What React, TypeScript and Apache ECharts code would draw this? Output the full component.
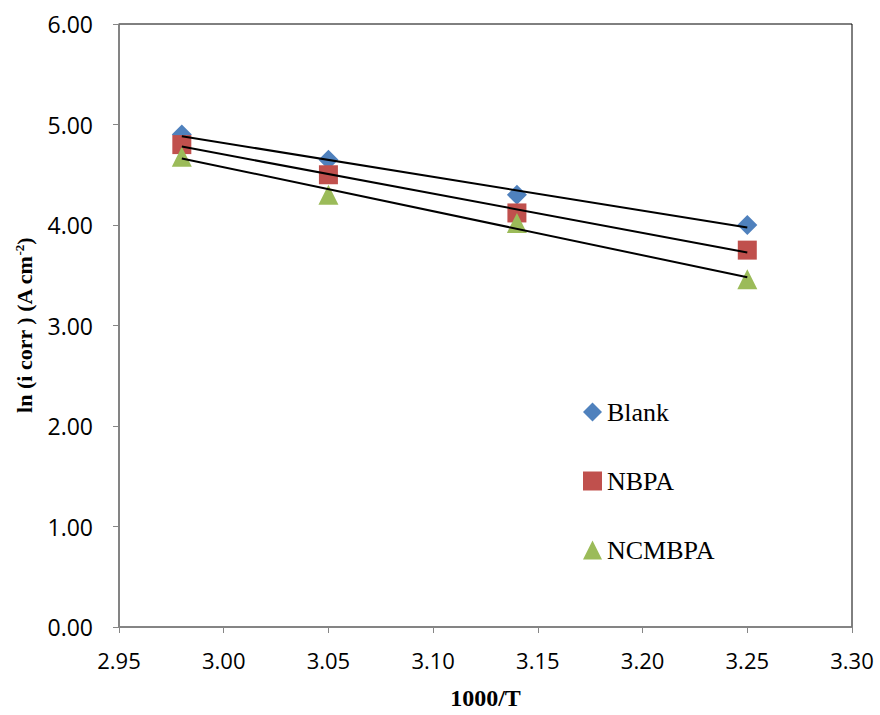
import React, { useEffect, useRef } from "react";
import * as echarts from "echarts";

const xValues = [2.98, 3.05, 3.14, 3.25];
const blank = [4.9, 4.65, 4.3, 4.0];
const nbpa = [4.8, 4.5, 4.12, 3.75];
const ncmbpa = [4.68, 4.3, 4.02, 3.46];
const yTicks = [0, 1, 2, 3, 4, 5, 6];
const xTicks = [2.95, 3.0, 3.05, 3.1, 3.15, 3.2, 3.25, 3.3];

function fit(xs: number[], ys: number[]): number[][] {
  const n = xs.length;
  const mx = xs.reduce((a, b) => a + b, 0) / n;
  const my = ys.reduce((a, b) => a + b, 0) / n;
  let sxy = 0, sxx = 0;
  for (let i = 0; i < n; i++) {
    sxy += (xs[i] - mx) * (ys[i] - my);
    sxx += (xs[i] - mx) * (xs[i] - mx);
  }
  const b = sxy / sxx;
  const a = my - b * mx;
  const x0 = xs[0], x1 = xs[n - 1];
  return [[x0, a + b * x0], [x1, a + b * x1]];
}

const pts = (ys: number[]) => xValues.map((x, i) => [x, ys[i]]);

export default function App() {
  const ref = useRef<HTMLDivElement>(null);
  useEffect(() => {
    if (!ref.current) return;
    const chart = echarts.init(ref.current, null, { renderer: "svg" });
    const trend = (ys: number[]) => ({
      type: "line",
      data: fit(xValues, ys),
      symbol: "none",
      lineStyle: { color: "#000", width: 2 },
      z: 3,
      silent: true,
    });
    chart.setOption({
      animation: false,
      backgroundColor: "#fff",
      grid: {
        left: 119, right: 28, top: 24, bottom: 87,
        show: true, borderColor: "#000", borderWidth: 1,
      },
      legend: {
        data: ["Blank", "NBPA", "NCMBPA"],
        orient: "vertical",
        left: 578,
        top: 394,
        itemWidth: 19,
        itemHeight: 19,
        itemGap: 43,
        textStyle: { fontFamily: "Liberation Serif", fontSize: 26, color: "#000" },
      },
      xAxis: {
        type: "value",
        min: 2.95,
        max: 3.3,
        interval: 0.05,
        name: "1000/T",
        nameLocation: "middle",
        nameGap: 59,
        nameTextStyle: { fontFamily: "Liberation Serif", fontWeight: "bold", fontSize: 24, color: "#000" },
        axisLine: { lineStyle: { color: "#868686", width: 1.5 } },
        axisTick: { show: true, length: 6, inside: false, lineStyle: { color: "#868686" } },
        splitLine: { show: false },
        axisLabel: {
          margin: 22,
          fontFamily: "Open Sans",
          fontSize: 22,
          color: "#000",
          formatter: (v: number) => v.toFixed(2),
          customValues: xTicks,
        },
      },
      yAxis: {
        type: "value",
        min: 0,
        max: 6,
        interval: 1,
        name: "{a|ln (i corr ) (A cm}{s|-2}{a|)}",
        nameLocation: "middle",
        nameGap: 83,
        nameTextStyle: {
          rich: {
            a: { fontFamily: "Liberation Serif", fontWeight: "bold", fontSize: 22, color: "#000" },
            s: { fontFamily: "Liberation Serif", fontWeight: "bold", fontSize: 13, color: "#000", verticalAlign: "top", padding: [0, 0, 10, 0] },
          },
        },
        axisLine: { show: true, lineStyle: { color: "#868686", width: 1.5 } },
        axisTick: { show: true, length: 6, lineStyle: { color: "#868686" } },
        splitLine: { show: false },
        axisLabel: {
          margin: 26,
          fontFamily: "Open Sans",
          fontSize: 23,
          color: "#000",
          formatter: (v: number) => v.toFixed(2),
          customValues: yTicks,
        },
      },
      series: [
        {
          name: "Blank", type: "scatter", data: pts(blank), symbol: "diamond", symbolSize: 20,
          itemStyle: { color: "#4F81BD", opacity: 1 }, z: 2,
        },
        {
          name: "NBPA", type: "scatter", data: pts(nbpa), symbol: "rect", symbolSize: 19,
          itemStyle: { color: "#C0504D", opacity: 1 }, z: 2,
        },
        {
          name: "NCMBPA", type: "scatter", data: pts(ncmbpa), symbol: "triangle", symbolSize: 20,
          itemStyle: { color: "#9BBB59", opacity: 1 }, z: 2,
        },
        trend(blank),
        trend(nbpa),
        trend(ncmbpa),
      ],
    });
    return () => chart.dispose();
  }, []);
  return <div ref={ref} style={{ width: 880, height: 715, position: "absolute", left: 0, top: 0 }} />;
}
